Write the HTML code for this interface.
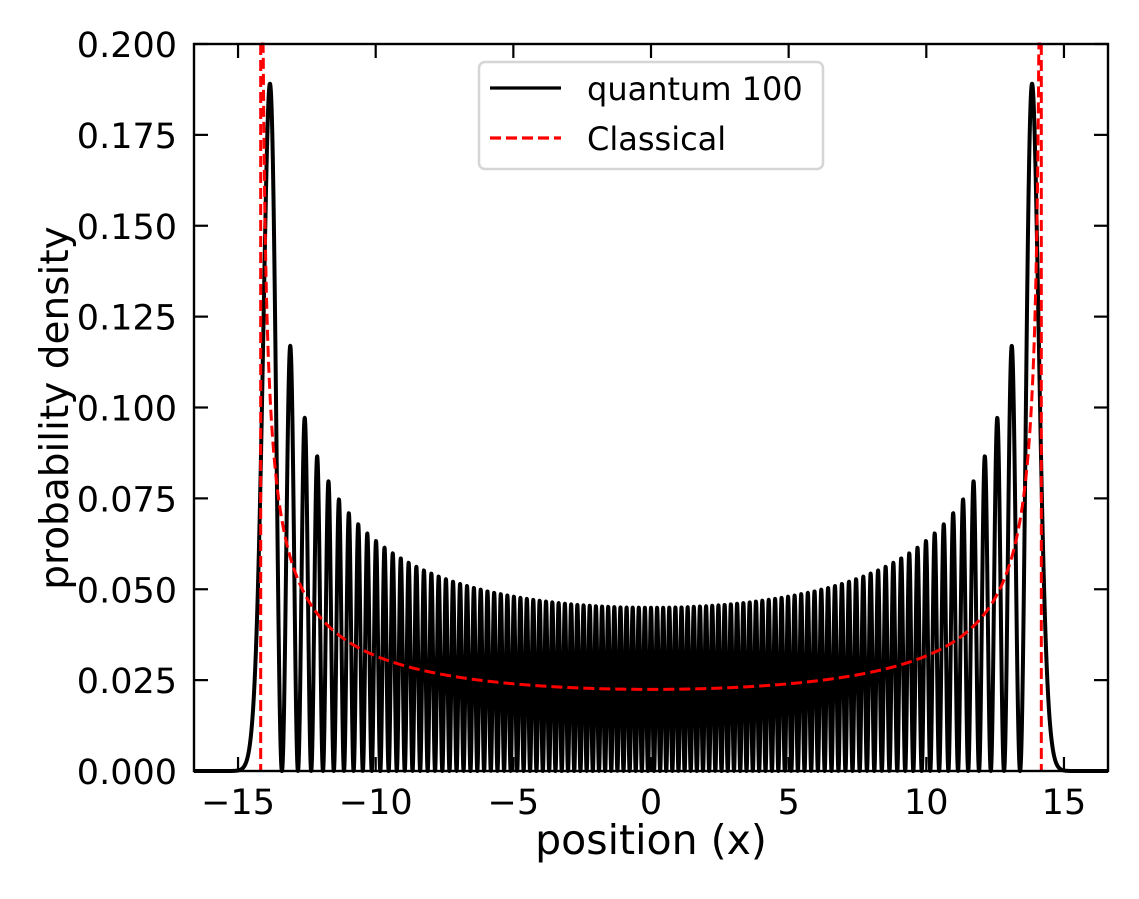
<!DOCTYPE html>
<html><head><meta charset="utf-8"><style>
body{margin:0;background:#fff;}
svg text{font-family:"DejaVu Sans","Liberation Sans",sans-serif;fill:#000;}
</style></head><body>
<svg id="chart" width="1139" height="894" xmlns="http://www.w3.org/2000/svg">
<rect width="1139" height="894" fill="#fff"/>
<g id="plot"></g>
<g id="axes"></g>
<rect x="194" y="44" width="914" height="727" fill="none" stroke="#000" stroke-width="2.4"/>
<text x="651" y="854" font-size="41" text-anchor="middle">position (x)</text>
<text transform="translate(68,408) rotate(-90)" font-size="39" text-anchor="middle">probability density</text>
<g>
<rect x="479" y="62" width="344" height="107" rx="6" fill="#fff" fill-opacity="0.8" stroke="#d5d5d5" stroke-width="2.5"/>
<line x1="490" y1="88" x2="561" y2="88" stroke="#000" stroke-width="3.2"/>
<text x="587" y="100" font-size="32">quantum 100</text>
<line x1="490" y1="138" x2="561" y2="138" stroke="#f00" stroke-width="3.2" stroke-dasharray="11,5"/>
<text x="587" y="150" font-size="32">Classical</text>
</g>
</svg>
<script>
const quantumN = [100];
const xTicks = [-15,-10,-5,0,5,10,15];
const xTickLabels = ["\u221215","\u221210","\u22125","0","5","10","15"];
const yTicks = [0,0.025,0.05,0.075,0.1,0.125,0.15,0.175,0.2];
const yTickLabels = ["0.000","0.025","0.050","0.075","0.100","0.125","0.150","0.175","0.200"];
const xDomain = [-16.6,16.6];
const yDomain = [0,0.2];

const L=194,R=1108,T=44,B=771;
const sx=v=>L+(v-xDomain[0])/(xDomain[1]-xDomain[0])*(R-L);
const sy=v=>B-(v-yDomain[0])/(yDomain[1]-yDomain[0])*(B-T);
const NS="http://www.w3.org/2000/svg";
const plot=document.getElementById('plot'), axes=document.getElementById('axes');
function mk(tag,attrs,parent){const e=document.createElementNS(NS,tag);for(const k in attrs)e.setAttribute(k,attrs[k]);parent.appendChild(e);return e;}

const n=quantumN[0];
function psi2(x){
  let p0=Math.pow(Math.PI,-0.25)*Math.exp(-x*x/2),p1=Math.SQRT2*x*p0;
  if(n===0)return p0*p0;
  for(let k=1;k<n;k++){const p2=Math.sqrt(2/(k+1))*x*p1-Math.sqrt(k/(k+1))*p0;p0=p1;p1=p2;}
  return p1*p1;
}
let d="";
const N=6000;
for(let i=0;i<=N;i++){const x=xDomain[0]+(xDomain[1]-xDomain[0])*i/N;d+=(i?"L":"M")+sx(x).toFixed(2)+","+sy(psi2(x)).toFixed(2);}
const q=mk('path',{d:d,fill:'none',stroke:'#000','stroke-width':4,'stroke-linejoin':'round'},plot);



const A=Math.sqrt(2*n+1);
let dc="";let first=true;
for(let i=0;i<=4000;i++){const x=-A+2*A*i/4000;const r=A*A-x*x;if(r<=0)continue;let y=1/(Math.PI*Math.sqrt(r));let py=Math.max(sy(y),T);dc+=(first?"M":"L")+sx(x).toFixed(2)+","+py.toFixed(2);first=false;}
dc+="M"+sx(-A)+","+T+"L"+sx(-A)+","+B+"M"+sx(A)+","+T+"L"+sx(A)+","+B;
const c=mk('path',{d:dc,fill:'none',stroke:'#f00','stroke-width':3,'stroke-dasharray':'11,5'},plot);



xTicks.forEach((v,i)=>{const x=sx(v);
  mk('line',{x1:x,y1:B,x2:x,y2:B-14,stroke:'#000','stroke-width':2.2},axes);
  mk('line',{x1:x,y1:T,x2:x,y2:T+14,stroke:'#000','stroke-width':2.2},axes);
  const t=mk('text',{x:x,y:814,'font-size':35,'text-anchor':'middle'},axes);t.textContent=xTickLabels[i];
  
  
});
yTicks.forEach((v,i)=>{const y=sy(v);
  mk('line',{x1:L,y1:y,x2:L+14,y2:y,stroke:'#000','stroke-width':2.2},axes);
  mk('line',{x1:R,y1:y,x2:R-14,y2:y,stroke:'#000','stroke-width':2.2},axes);
  const t=mk('text',{x:177,y:y+13,'font-size':35,'text-anchor':'end'},axes);t.textContent=yTickLabels[i];
  
  
});
</script>
</body></html>
